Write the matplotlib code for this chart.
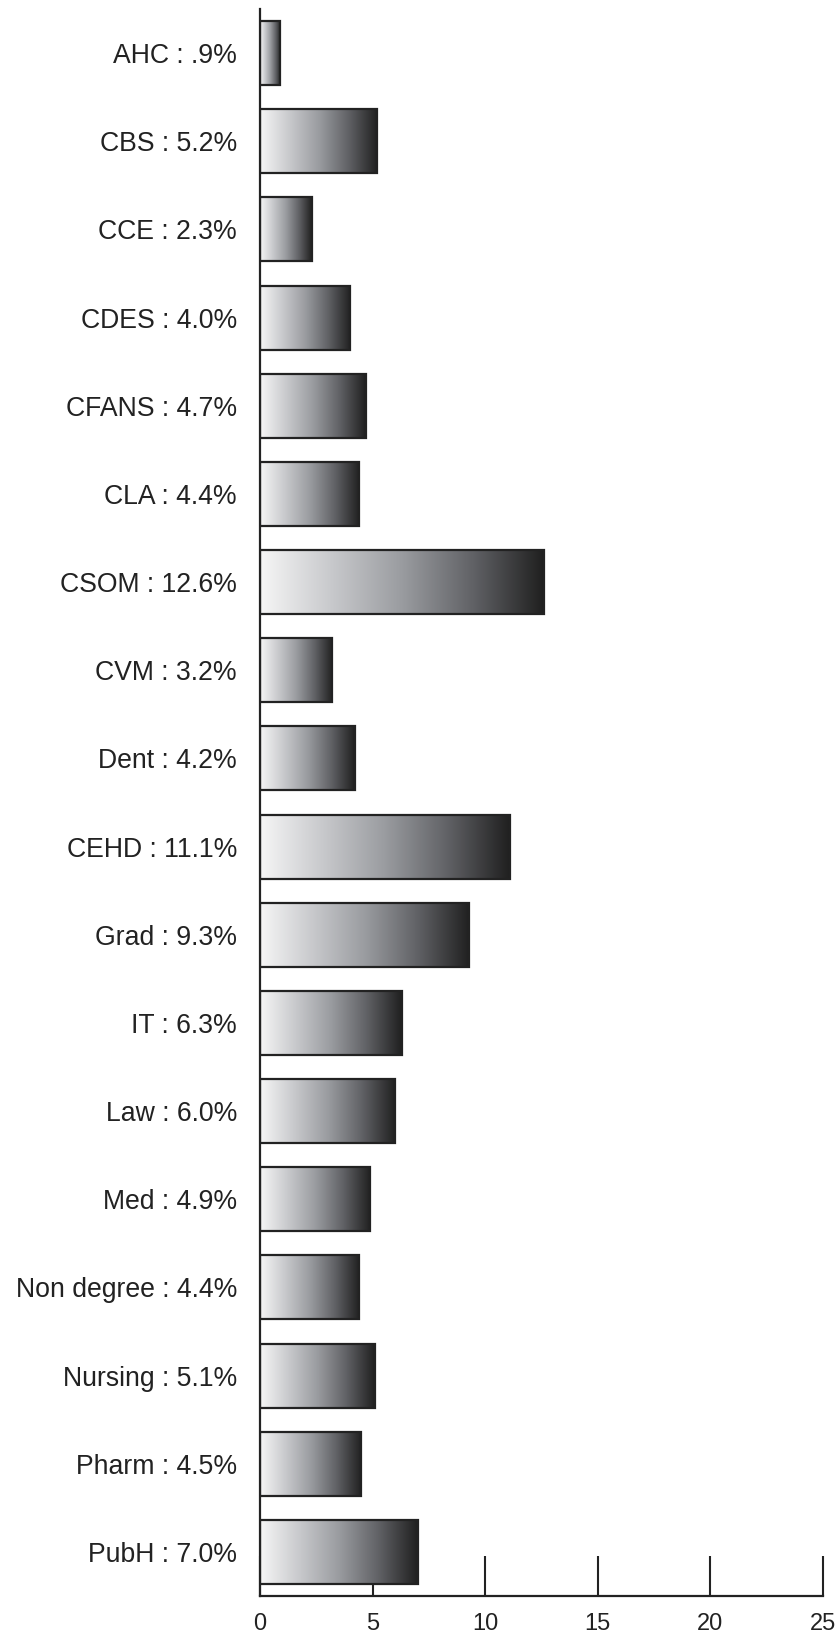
import numpy as np
import matplotlib
matplotlib.use("Agg")
import matplotlib.pyplot as plt
from matplotlib import font_manager
from matplotlib.colors import LinearSegmentedColormap
from matplotlib.patches import Rectangle

# Data
colleges = ["AHC", "CBS", "CCE", "CDES", "CFANS", "CLA", "CSOM", "CVM", "Dent",
            "CEHD", "Grad", "IT", "Law", "Med", "Non degree", "Nursing", "Pharm", "PubH"]
percent_labels = [".9", "5.2", "2.3", "4.0", "4.7", "4.4", "12.6", "3.2", "4.2",
                  "11.1", "9.3", "6.3", "6.0", "4.9", "4.4", "5.1", "4.5", "7.0"]
values = [0.9, 5.2, 2.3, 4.0, 4.7, 4.4, 12.6, 3.2, 4.2,
          11.1, 9.3, 6.3, 6.0, 4.9, 4.4, 5.1, 4.5, 7.0]
x_ticks = [0, 5, 10, 15, 20, 25]

# fonts
installed = {f.name for f in font_manager.fontManager.ttflist}
label_font = "Liberation Sans" if "Liberation Sans" in installed else "DejaVu Sans"
tick_font = "Liberation Sans Narrow" if "Liberation Sans Narrow" in installed else label_font

# grey gradient, light on the left, almost black on the right
grad_cmap = LinearSegmentedColormap.from_list(
    "bar_grad", ["#f6f6f6", "#c8c9cc", "#9a9ca0", "#616266", "#202020"])
gradient = np.linspace(0, 1, 256).reshape(1, -1)

fig = plt.figure(figsize=(8.39, 16.36), dpi=100)
ax = fig.add_axes([0.3099, 0.02445, 0.6711, 0.97005])

bar_h = 0.726
for i, v in enumerate(values):
    ax.imshow(gradient, cmap=grad_cmap, aspect="auto", interpolation="bilinear",
              extent=[0, v, i + bar_h / 2, i - bar_h / 2], zorder=3)
    ax.add_patch(Rectangle((0, i - bar_h / 2), v, bar_h, fill=False,
                           edgecolor="#222222", linewidth=1.6, zorder=4))

ax.set_xlim(0, 25)
ax.set_ylim(len(values) - 0.5, -0.5)

# axes look
for side in ["top", "right"]:
    ax.spines[side].set_visible(False)
for side in ["left", "bottom"]:
    ax.spines[side].set_linewidth(1.6)
    ax.spines[side].set_color("#222222")
    ax.spines[side].set_zorder(5)

ax.set_xticks(x_ticks)
ax.set_xticklabels([str(t) for t in x_ticks], family=tick_font, fontsize=17, color="#222222")
ax.tick_params(axis="x", direction="in", length=29, width=1.5, color="#222222", pad=12)

ax.set_yticks(range(len(colleges)))
ax.set_yticklabels([f"{c} : {p}%" for c, p in zip(colleges, percent_labels)],
                   family=label_font, fontsize=19.2, color="#222222")
ax.tick_params(axis="y", length=0, pad=16.5)

fig.savefig("out.png", dpi=100)
